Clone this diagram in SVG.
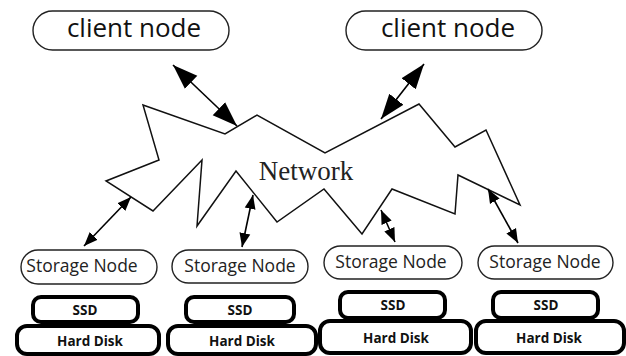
<svg xmlns="http://www.w3.org/2000/svg" width="626" height="356" viewBox="0 0 626 356">
  <style>
    .pill { fill: #fff; stroke: #222; stroke-width: 1.4; }
    .disk { fill: #fff; stroke: #000; stroke-width: 4; }
    .client-label { font-family: "Open Sans", "Noto Sans", sans-serif; font-size: 26px; fill: #111; text-anchor: middle; }
    .node-label { font-family: "Open Sans", "Noto Sans", sans-serif; font-size: 17.5px; fill: #222; text-anchor: middle; }
    .disk-label { font-family: "Open Sans", "Noto Sans", sans-serif; font-size: 13.5px; font-weight: bold; fill: #111; text-anchor: middle; }
    .net-label { font-family: "Liberation Serif", "Times New Roman", serif; font-size: 27px; fill: #222; text-anchor: middle; }
    .cloud { fill: #fff; stroke: #111; stroke-width: 1.5; stroke-linejoin: miter; }
    .link { fill: none; stroke: #000; stroke-width: 1.6; }
    .link-big { marker-start: url(#headBig); marker-end: url(#headBig); }
    .link-small { marker-start: url(#headSmall); marker-end: url(#headSmall); }
  </style>
  <defs>
    <marker id="headBig" markerUnits="userSpaceOnUse" markerWidth="26" markerHeight="20" viewBox="0 0 26 20" refX="25" refY="10" orient="auto-start-reverse">
      <path d="M0,1 L25,10 L0,19 Z" fill="#000"/>
    </marker>
    <marker id="headSmall" markerUnits="userSpaceOnUse" markerWidth="15" markerHeight="12" viewBox="0 0 15 12" refX="14" refY="6" orient="auto-start-reverse">
      <path d="M0,0.5 L14,6 L0,11.5 Z" fill="#000"/>
    </marker>
  </defs>

  <rect width="626" height="356" fill="#fff"/>

  <!-- network cloud -->
  <g id="network">
    <polygon class="cloud" points="143,105 225,134 257,115 325,153 419,104 455,147 486,130 520,205 458,175 455,214 392,189 362,234 324,189 277,222 236,171 197,226 202,160 153,211 106,181 159,160"/>
    <text class="net-label" x="306" y="180">Network</text>
  </g>

  <!-- client nodes -->
  <g id="client1">
    <rect class="pill" x="33" y="11" width="196" height="39" rx="19.5"/>
    <text class="client-label" x="134" y="37">client node</text>
  </g>
  <g id="client2">
    <rect class="pill" x="346" y="11" width="196" height="39" rx="19.5"/>
    <text class="client-label" x="448" y="37">client node</text>
  </g>

  <!-- storage nodes with their disks -->
  <g id="storage1">
    <rect class="pill" x="21" y="250" width="136" height="34" rx="17"/>
    <text class="node-label" x="82" y="272">Storage Node</text>
    <rect class="disk" x="33" y="297" width="105" height="25" rx="8"/>
    <text class="disk-label" x="85" y="315">SSD</text>
    <rect class="disk" x="17" y="326" width="142" height="28" rx="10"/>
    <text class="disk-label" x="90" y="346">Hard Disk</text>
  </g>
  <g id="storage2">
    <rect class="pill" x="172" y="250" width="136" height="33" rx="16.5"/>
    <text class="node-label" x="240" y="272">Storage Node</text>
    <rect class="disk" x="186" y="297" width="108" height="25" rx="8"/>
    <text class="disk-label" x="240" y="315">SSD</text>
    <rect class="disk" x="168" y="326" width="148" height="28" rx="10"/>
    <text class="disk-label" x="242" y="346">Hard Disk</text>
  </g>
  <g id="storage3">
    <rect class="pill" x="324" y="246" width="138" height="33" rx="16.5"/>
    <text class="node-label" x="391" y="268">Storage Node</text>
    <rect class="disk" x="340" y="292" width="105" height="26" rx="8"/>
    <text class="disk-label" x="393" y="310">SSD</text>
    <rect class="disk" x="320" y="321" width="151" height="32" rx="10"/>
    <text class="disk-label" x="396" y="343">Hard Disk</text>
  </g>
  <g id="storage4">
    <rect class="pill" x="478" y="246" width="135" height="33" rx="16.5"/>
    <text class="node-label" x="545" y="268">Storage Node</text>
    <rect class="disk" x="493" y="292" width="105" height="26" rx="8"/>
    <text class="disk-label" x="546" y="310">SSD</text>
    <rect class="disk" x="476" y="321" width="148" height="32" rx="10"/>
    <text class="disk-label" x="549" y="343">Hard Disk</text>
  </g>

  <!-- connectors -->
  <g id="connectors">
    <path class="link link-big" d="M173,65 L237,126"/>
    <path class="link link-big" d="M424,64 L381,119"/>
    <path class="link link-small" d="M131,197 L84,246"/>
    <path class="link link-small" d="M253,195 L242,247"/>
    <path class="link link-small" d="M381,210 L395,242"/>
    <path class="link link-small" d="M488,189 L518,243"/>
  </g>
</svg>
